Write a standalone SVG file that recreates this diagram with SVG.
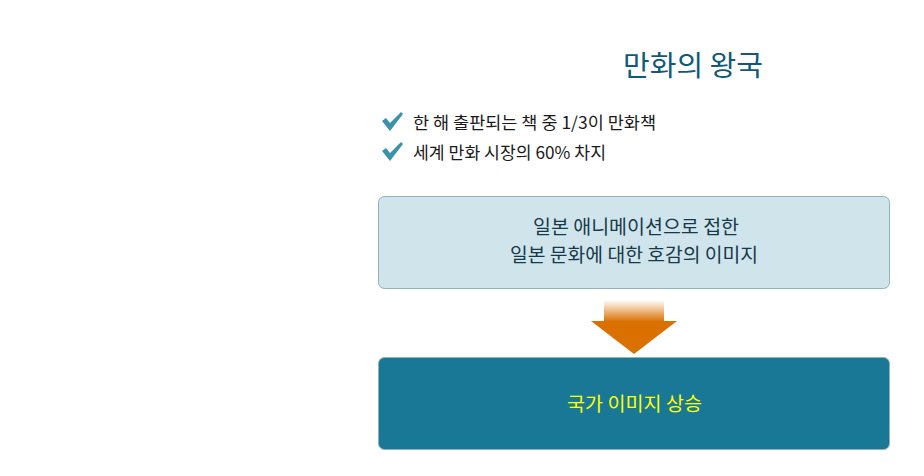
<svg xmlns="http://www.w3.org/2000/svg" width="924" height="476" viewBox="0 0 924 476">
<defs>
<style>
text{font-family:"Noto Sans CJK KR","Noto Sans",sans-serif}
.bul{font-size:17px;fill:#1a1a1a}
.bx{font-size:19px;fill:#17384a}
.chk{fill:#3a92ad}
</style>
<linearGradient id="sh" x1="0" y1="0" x2="0" y2="1">
<stop offset="0" stop-color="#d97000" stop-opacity="0"/>
<stop offset="1" stop-color="#d97000"/>
</linearGradient>
<path id="ck" d="M0,9 L4,6 L8,11 L19,0 L21,2 L8,19 Z"/>
</defs>
<rect width="924" height="476" fill="#fff"/>
<g id="title"><text x="623" y="76" font-size="28" fill="#0f5a78" textLength="140" lengthAdjust="spacingAndGlyphs">만화의 왕국</text></g>
<g id="bullets">
<use href="#ck" class="chk" x="382" y="112"/>
<text class="bul" x="413" y="129" textLength="243" lengthAdjust="spacingAndGlyphs">한 해 출판되는 책 중 1/3이 만화책</text>
<use href="#ck" class="chk" x="382" y="142"/>
<text class="bul" x="413" y="159" textLength="193" lengthAdjust="spacingAndGlyphs">세계 만화 시장의 60% 차지</text>
</g>
<g id="box1">
<rect x="378.5" y="196.5" width="511" height="92" rx="6" fill="#cfe5eb" stroke="#8fb2bb"/>
<text class="bx" x="533" y="234" textLength="206" lengthAdjust="spacingAndGlyphs">일본 애니메이션으로 접한</text>
<text class="bx" x="510" y="262" textLength="248" lengthAdjust="spacingAndGlyphs">일본 문화에 대한 호감의 이미지</text>
</g>
<g id="connectors">
<rect x="604" y="300" width="60" height="22" fill="url(#sh)"/>
<polygon points="591,321 677,321 634,354" fill="#d97000"/>
</g>
<g id="box2">
<rect x="378.5" y="357.5" width="511" height="92" rx="6" fill="#187896" stroke="#8fb2bb"/>
<text x="567" y="411" font-size="19" fill="#ffff00" textLength="135" lengthAdjust="spacingAndGlyphs">국가 이미지 상승</text>
</g>
</svg>
